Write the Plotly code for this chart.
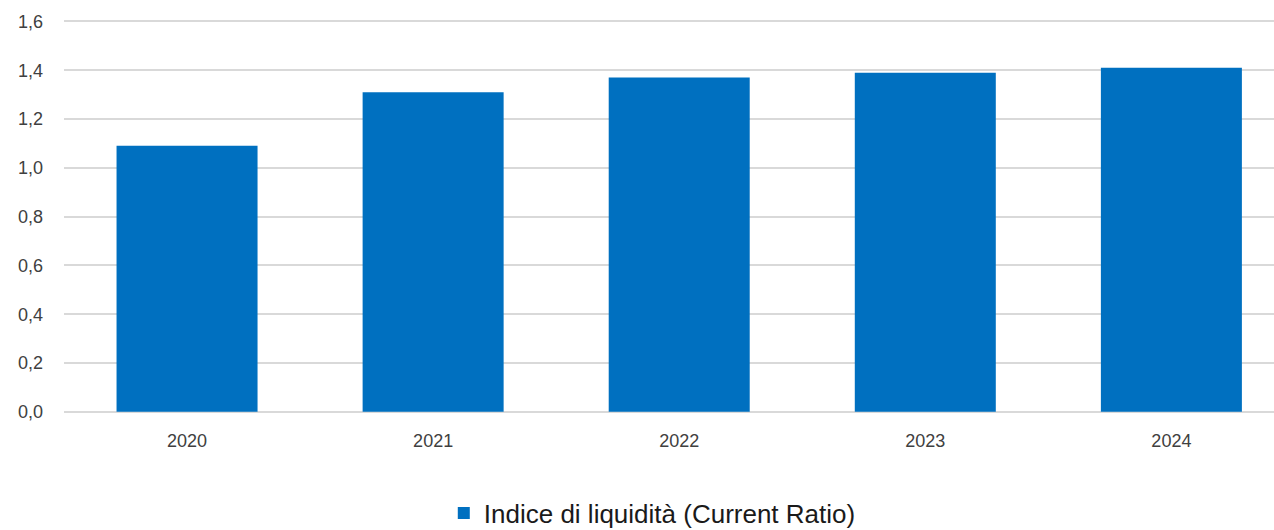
import plotly.graph_objects as go

years = ["2020", "2021", "2022", "2023", "2024"]
current_ratio = [1.09, 1.31, 1.37, 1.39, 1.41]
series_name = "Indice di liquidità (Current Ratio)"
y_ticks = [0, 0.2, 0.4, 0.6, 0.8, 1.0, 1.2, 1.4, 1.6]

fig = go.Figure()
fig.add_trace(go.Bar(
    x=years, y=current_ratio, name=series_name,
    marker=dict(color="#0070C0", line=dict(width=0)),
    width=0.573,
))

fig.update_layout(
    width=1274, height=530,
    margin=dict(l=64, r=0, t=19, b=117, autoexpand=False),
    paper_bgcolor="white", plot_bgcolor="white",
    separators=",.",
    font=dict(family="Liberation Sans, Arial, sans-serif", color="#404040"),
    showlegend=True,
    legend=dict(orientation="h", xref="container", x=0.512, xanchor="center",
                yref="container", y=0.032, yanchor="middle",
                font=dict(size=26, color="#1a1a1a"), itemwidth=30),
)
fig.update_xaxes(
    type="category", range=[-0.5, 4.417],
    showgrid=False, zeroline=False, showline=False,
    tickfont=dict(size=18, color="#404040"), ticks="", ticklabelstandoff=15,
)
fig.update_yaxes(
    range=[-0.005, 1.61], tickvals=y_ticks, tickformat=".1f",
    showgrid=True, gridcolor="#d9d9d9", gridwidth=1.5,
    zeroline=False, showline=False,
    tickfont=dict(size=18, color="#404040"), ticks="", ticklabelstandoff=20,
)
fig.write_html("out.html", config={"displayModeBar": False},
               post_script="document.body.style.margin='0';")
